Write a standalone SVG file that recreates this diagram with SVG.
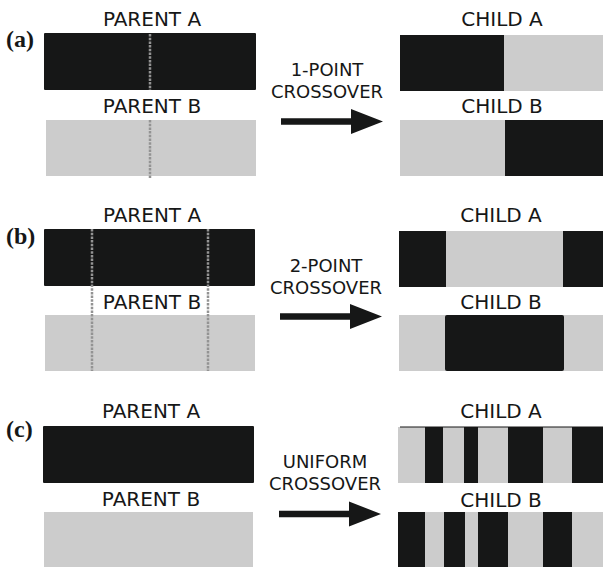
<svg xmlns="http://www.w3.org/2000/svg" width="603" height="567" viewBox="0 0 603 567">
  <style>
    .lbl { font-family: "DejaVu Sans", "Liberation Sans", sans-serif; font-size: 20px; fill: #161717; text-anchor: middle; }
    .op { font-family: "DejaVu Sans", "Liberation Sans", sans-serif; font-size: 18px; fill: #161717; text-anchor: middle; }
    .tag { font-family: "Liberation Serif", "Times New Roman", serif; font-size: 24px; font-weight: bold; fill: #161717; }
    .dark { fill: #161717; }
    .light { fill: #cccccc; }
    .cut { stroke: #939393; stroke-width: 2.5; stroke-dasharray: 2.5 1.2; fill: none; }
  </style>
  <defs>
    <!-- block arrow pointing right, origin at the tail centre -->
    <path id="arrow" d="M0,-3.3 H70 V-12.5 L102,0 L70,12.5 V3.3 H0 Z" fill="#161717"/>
  </defs>

  <rect width="603" height="567" fill="#ffffff"/>

  <!-- (a) one-point crossover -->
  <g id="panel-a">
    <text class="tag" x="6" y="47">(a)</text>
    <g id="a-parent-a">
      <text class="lbl" x="152" y="26">PARENT A</text>
      <rect class="dark" x="44" y="33" width="212" height="57" rx="1"/>
    </g>
    <g id="a-parent-b">
      <text class="lbl" x="152" y="113">PARENT B</text>
      <rect class="light" x="46" y="120" width="210" height="56"/>
    </g>
    <g id="a-op">
      <text class="op" x="327" y="76">1-POINT</text>
      <text class="op" x="327" y="98">CROSSOVER</text>
    </g>
    <g id="a-child-a">
      <text class="lbl" x="502" y="26">CHILD A</text>
      <rect class="dark" x="400" y="35" width="104" height="56"/>
      <rect class="light" x="504" y="35" width="99" height="56"/>
    </g>
    <g id="a-child-b">
      <text class="lbl" x="502" y="113">CHILD B</text>
      <rect class="light" x="400" y="120" width="105" height="56"/>
      <rect class="dark" x="505" y="120" width="98" height="56"/>
    </g>
  </g>

  <!-- (b) two-point crossover -->
  <g id="panel-b">
    <text class="tag" x="6" y="244">(b)</text>
    <g id="b-parent-a">
      <text class="lbl" x="152" y="222">PARENT A</text>
      <rect class="dark" x="44" y="229" width="211" height="57" rx="1"/>
    </g>
    <g id="b-parent-b">
      <text class="lbl" x="152" y="309">PARENT B</text>
      <rect class="light" x="45" y="315" width="210" height="56"/>
    </g>
    <g id="b-op">
      <text class="op" x="326" y="272">2-POINT</text>
      <text class="op" x="326" y="294">CROSSOVER</text>
    </g>
    <g id="b-child-a">
      <text class="lbl" x="501" y="222">CHILD A</text>
      <rect class="dark" x="399" y="231" width="47" height="56"/>
      <rect class="light" x="446" y="231" width="117" height="56"/>
      <rect class="dark" x="563" y="231" width="40" height="56"/>
    </g>
    <g id="b-child-b">
      <text class="lbl" x="501" y="309">CHILD B</text>
      <rect class="light" x="399" y="315" width="204" height="56"/>
      <rect class="dark" x="445" y="315" width="119" height="56" rx="2"/>
    </g>
  </g>

  <!-- (c) uniform crossover -->
  <g id="panel-c">
    <text class="tag" x="6" y="437">(c)</text>
    <g id="c-parent-a">
      <text class="lbl" x="151" y="418">PARENT A</text>
      <rect class="dark" x="43" y="426" width="211" height="57" rx="1"/>
    </g>
    <g id="c-parent-b">
      <text class="lbl" x="151" y="506">PARENT B</text>
      <rect class="light" x="44" y="512" width="209" height="55"/>
    </g>
    <g id="c-op">
      <text class="op" x="325" y="468">UNIFORM</text>
      <text class="op" x="325" y="490">CROSSOVER</text>
    </g>
    <g id="c-child-a">
      <text class="lbl" x="501" y="418">CHILD A</text>
      <rect class="light" x="398" y="427" width="205" height="56"/>
      <rect class="dark" x="425" y="427" width="18" height="56"/>
      <rect class="dark" x="464" y="427" width="14" height="56"/>
      <rect class="dark" x="508" y="427" width="35" height="56"/>
      <rect class="dark" x="572" y="427" width="31" height="56"/>
      <line x1="400" y1="427" x2="603" y2="427" stroke="#161717" stroke-width="1"/>
    </g>
    <g id="c-child-b">
      <text class="lbl" x="501" y="507">CHILD B</text>
      <rect class="light" x="398" y="512" width="205" height="55"/>
      <rect class="dark" x="398" y="512" width="27" height="55"/>
      <rect class="dark" x="444" y="512" width="21" height="55"/>
      <rect class="dark" x="478" y="512" width="30" height="55"/>
      <rect class="dark" x="543" y="512" width="29" height="55"/>
    </g>
  </g>

  <!-- connectors: crossover cut lines and transform arrows -->
  <g id="connectors">
    <line class="cut" x1="150" y1="34" x2="150" y2="90"/>
    <line class="cut" x1="150" y1="120" x2="150" y2="178"/>
    <line class="cut" x1="92" y1="229" x2="92" y2="371"/>
    <line class="cut" x1="208" y1="229" x2="208" y2="371"/>
    <use href="#arrow" x="281" y="121.5"/>
    <use href="#arrow" x="280" y="316.5"/>
    <use href="#arrow" x="279" y="514"/>
  </g>
</svg>
